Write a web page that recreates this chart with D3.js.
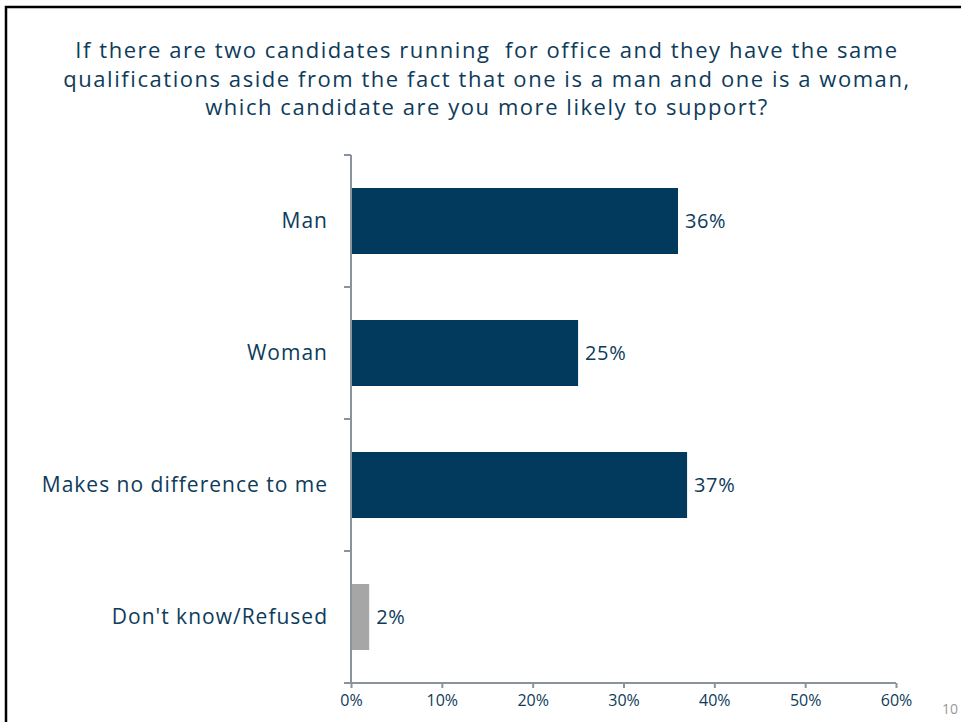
<!DOCTYPE html>
<html>
<head>
<meta charset="utf-8">
<script src="https://cdn.jsdelivr.net/npm/d3@7"></script>
<style>
  html, body { margin: 0; padding: 0; background: #fff; }
  svg { display: block; }
  text { font-family: "Open Sans", sans-serif; }
</style>
</head>
<body>
<svg id="chart" width="961" height="722"></svg>
<script>
// Survey responses (percent)
const categories = ["Man", "Woman", "Makes no difference to me", "Don't know/Refused"];
const values = [36, 25, 37, 2];
const barColors = ["#013A5C", "#013A5C", "#013A5C", "#A6A6A6"];
const xTicks = [0, 10, 20, 30, 40, 50, 60];
const titleLines = [
  "If there are two candidates running  for office and they have the same",
  "qualifications aside from the fact that one is a man and one is a woman,",
  "which candidate are you more likely to support?"
];
const pageNumber = "10";

const svg = d3.select("#chart");
const textColor = "#0E3B5A";
const axisColor = "#8A939C";

// slide frame
svg.append("path")
  .attr("d", "M6,722 V7 H961")
  .attr("fill", "none")
  .attr("stroke", "#000")
  .attr("stroke-width", 2.5);

// title
svg.append("g").selectAll("text")
  .data(titleLines)
  .join("text")
  .attr("x", 487)
  .attr("y", (d, i) => 58 + i * 28.5)
  .attr("text-anchor", "middle")
  .attr("fill", textColor)
  .attr("font-size", 22)
  .attr("letter-spacing", 1.55)
  .style("white-space", "pre")
  .text(d => d);

const margin = { left: 351, top: 155, right: 896, bottom: 683 };

const x = d3.scaleLinear().domain([0, 60]).range([margin.left, margin.right]);
const y = d3.scaleBand().domain(categories).range([margin.top, margin.bottom]).paddingInner(0.5).paddingOuter(0.25);
const yBand = d3.scaleBand().domain(categories).range([margin.top, margin.bottom]);

// bars
svg.append("g").selectAll("rect")
  .data(categories)
  .join("rect")
  .attr("x", x(0))
  .attr("y", d => y(d))
  .attr("width", (d, i) => x(values[i]) - x(0))
  .attr("height", y.bandwidth())
  .attr("fill", (d, i) => barColors[i]);

// value labels
svg.append("g").selectAll("text")
  .data(categories)
  .join("text")
  .attr("x", (d, i) => x(values[i]) + 7)
  .attr("y", d => y(d) + y.bandwidth() / 2)
  .attr("dy", "0.35em")
  .attr("fill", textColor)
  .attr("font-size", 20)
  .attr("letter-spacing", 0.6)
  .text((d, i) => values[i] + "%");

// category labels
svg.append("g").selectAll("text")
  .data(categories)
  .join("text")
  .attr("x", margin.left - 23)
  .attr("y", d => y(d) + y.bandwidth() / 2)
  .attr("dy", "0.35em")
  .attr("text-anchor", "end")
  .attr("fill", textColor)
  .attr("font-size", 21)
  .attr("letter-spacing", 1)
  .text(d => d);

// y axis line with boundary ticks
const yAxisG = svg.append("g");
yAxisG.append("line")
  .attr("x1", margin.left).attr("x2", margin.left)
  .attr("y1", margin.top).attr("y2", margin.bottom)
  .attr("stroke", axisColor).attr("stroke-width", 2);
const boundaries = categories.map(c => yBand(c)).concat([margin.bottom]);
yAxisG.selectAll("line.tick")
  .data(boundaries)
  .join("line")
  .attr("class", "tick")
  .attr("x1", margin.left - 7).attr("x2", margin.left)
  .attr("y1", d => d).attr("y2", d => d)
  .attr("stroke", axisColor).attr("stroke-width", 2);

// x axis
const xAxis = d3.axisBottom(x)
  .tickValues(xTicks)
  .tickFormat(d => d + "%")
  .tickSize(5)
  .tickSizeOuter(0);
const xg = svg.append("g")
  .attr("transform", `translate(0,${margin.bottom})`)
  .call(xAxis);
xg.select(".domain").remove();
xg.append("line")
  .attr("x1", margin.left - 7).attr("x2", margin.right)
  .attr("stroke", axisColor).attr("stroke-width", 2);
xg.selectAll(".tick line").attr("stroke", axisColor).attr("stroke-width", 2);
xg.selectAll(".tick text")
  .attr("fill", textColor)
  .attr("font-size", 16)
  .attr("font-family", "'Open Sans', sans-serif")
  .attr("y", 12);

// page number
svg.append("text")
  .attr("x", 942)
  .attr("y", 714)
  .attr("fill", "#999")
  .attr("font-size", 14)
  .text(pageNumber);
</script>
</body>
</html>
